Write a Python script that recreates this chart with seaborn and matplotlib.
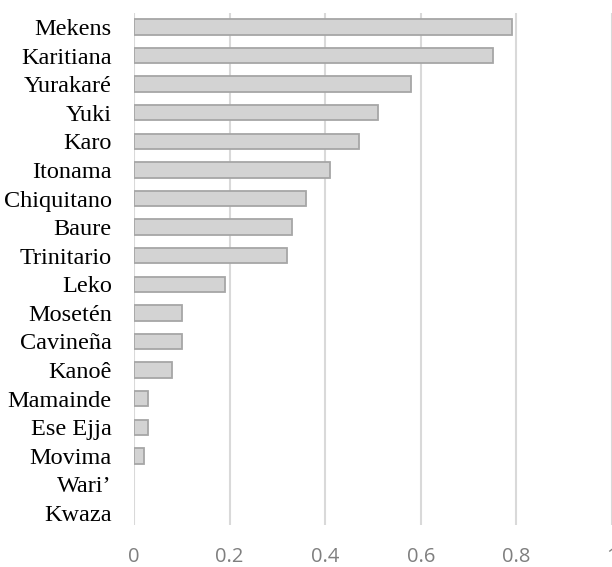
import matplotlib
matplotlib.use('Agg')
import matplotlib.pyplot as plt
import seaborn as sns
import pandas as pd

# Dados
linguas = ['Mekens', 'Karitiana', 'Yurakaré', 'Yuki', 'Karo', 'Itonama', 'Chiquitano',
           'Baure', 'Trinitario', 'Leko', 'Mosetén', 'Cavineña', 'Kanoê', 'Mamainde',
           'Ese Ejja', 'Movima', 'Wari’', 'Kwaza']
valores = [0.79, 0.75, 0.58, 0.51, 0.47, 0.41, 0.36, 0.33, 0.32, 0.19, 0.10, 0.10,
           0.08, 0.03, 0.03, 0.02, 0.0, 0.0]
xticks = [0, 0.2, 0.4, 0.6, 0.8, 1]
xlabels = ['0', '0.2', '0.4', '0.6', '0.8', '1']

df = pd.DataFrame({'lingua': linguas, 'valor': valores})

sns.set_style('white')
fig = plt.figure(figsize=(6.12, 5.67), dpi=100)
ax = fig.add_axes([134 / 612, 1 - 525 / 567, 1 - 134 / 612, (525 - 13) / 567])

sns.barplot(x='valor', y='lingua', data=df, orient='h', color='#d3d3d3',
            edgecolor='#a6a6a6', linewidth=1.3, width=0.54, saturation=1, ax=ax)

# barras com valor zero não aparecem
for p in ax.patches:
    if p.get_width() == 0:
        p.set_linewidth(0)

ax.set_xlim(0, 1)
ax.set_ylim(17.42, -0.49)
ax.set_xticks(xticks)
ax.set_xticklabels(xlabels, fontfamily='Open Sans', fontsize=14.5, color='#7f7f7f')
ax.set_yticks(range(len(linguas)))
ax.set_yticklabels(linguas, fontfamily='Liberation Serif', fontsize=17.5, color='black')
ax.tick_params(axis='y', length=0, pad=16)
ax.tick_params(axis='x', length=0, pad=16)
ax.set_xlabel('')
ax.set_ylabel('')

ax.grid(axis='x', color='#d9d9d9', linewidth=1.5)
ax.set_axisbelow(True)
for s in ax.spines.values():
    s.set_visible(False)

fig.savefig('out.png', dpi=100)
